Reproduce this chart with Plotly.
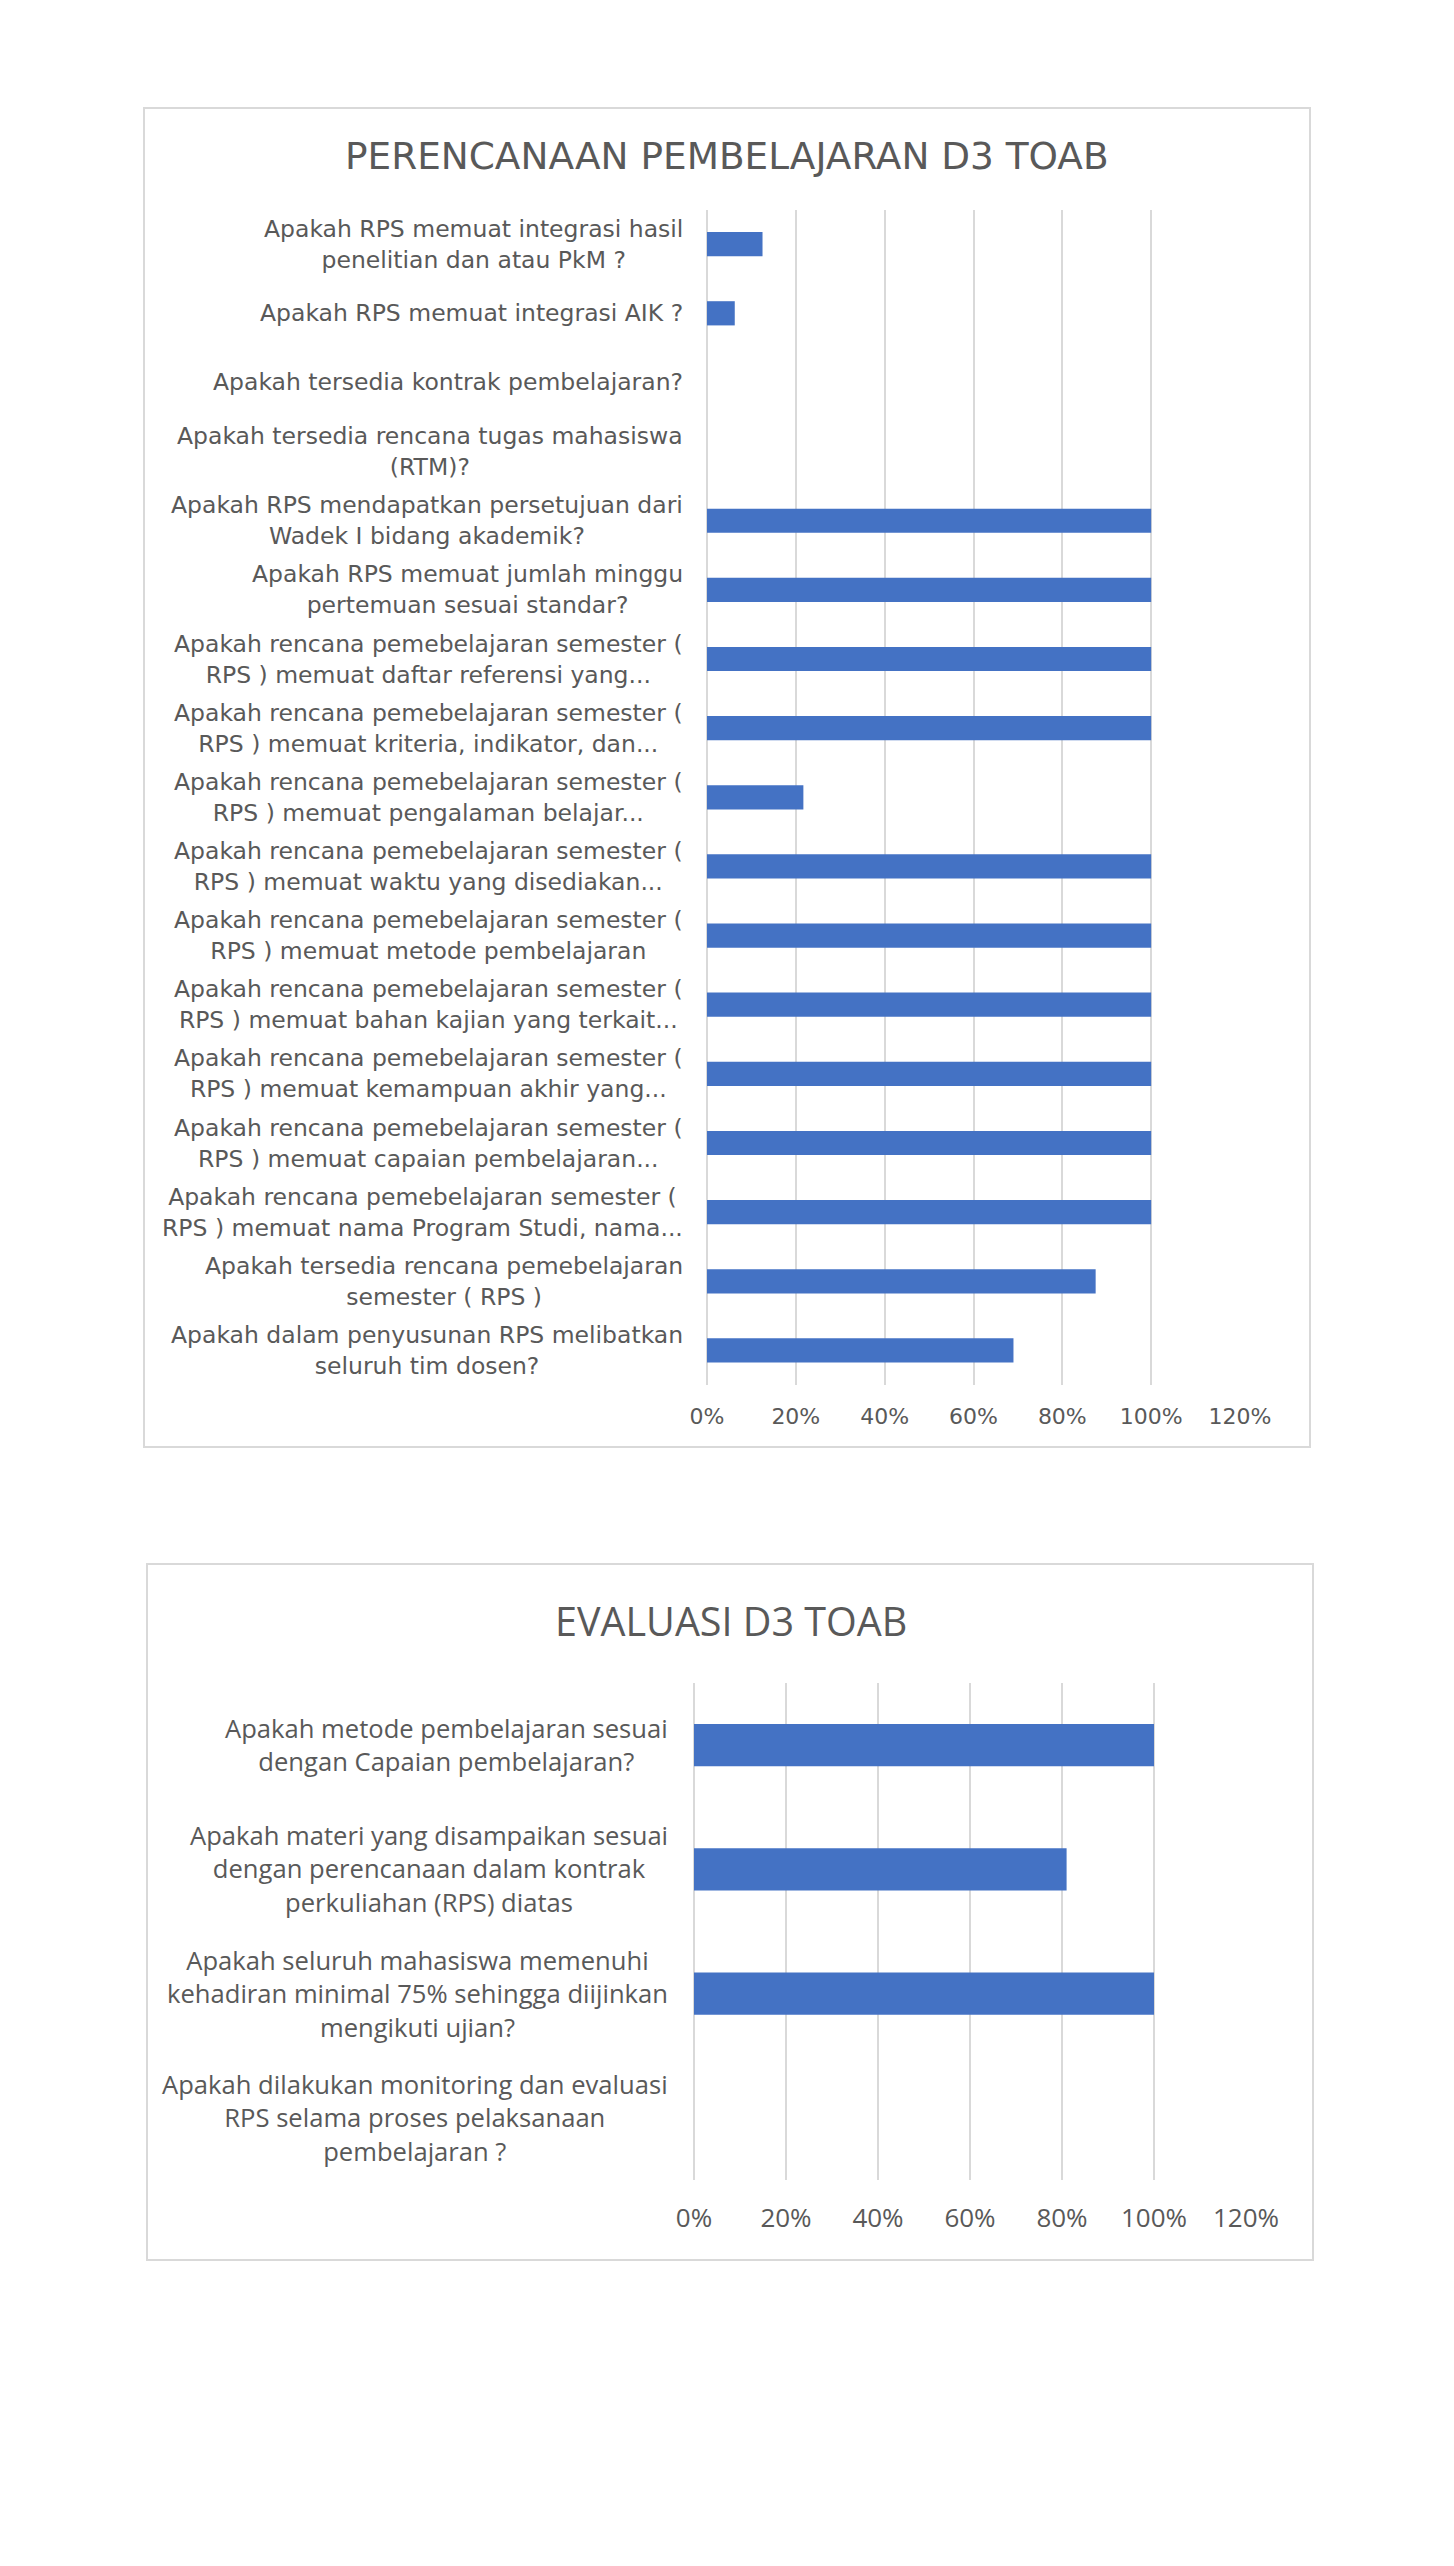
import plotly.graph_objects as go

W, H = 1454, 2566

# PERENCANAAN PEMBELAJARAN D3 TOAB (urut dari atas ke bawah)
plan_labels = [
    "Apakah RPS memuat integrasi hasil<br>penelitian dan atau PkM ?",
    "Apakah RPS memuat integrasi AIK ?",
    "Apakah tersedia kontrak pembelajaran?",
    "Apakah tersedia rencana tugas mahasiswa<br>(RTM)?",
    "Apakah RPS mendapatkan persetujuan dari<br>Wadek I bidang akademik?",
    "Apakah RPS memuat jumlah minggu<br>pertemuan sesuai standar?",
    "Apakah rencana pemebelajaran semester (<br>RPS ) memuat daftar referensi yang...",
    "Apakah rencana pemebelajaran semester (<br>RPS ) memuat kriteria, indikator, dan...",
    "Apakah rencana pemebelajaran semester (<br>RPS ) memuat pengalaman belajar...",
    "Apakah rencana pemebelajaran semester (<br>RPS ) memuat waktu yang disediakan...",
    "Apakah rencana pemebelajaran semester (<br>RPS ) memuat metode pembelajaran",
    "Apakah rencana pemebelajaran semester (<br>RPS ) memuat bahan kajian yang terkait...",
    "Apakah rencana pemebelajaran semester (<br>RPS ) memuat kemampuan akhir yang...",
    "Apakah rencana pemebelajaran semester (<br>RPS ) memuat capaian pembelajaran...",
    "Apakah rencana pemebelajaran semester (<br>RPS ) memuat nama Program Studi, nama...",
    "Apakah tersedia rencana pemebelajaran<br>semester ( RPS )",
    "Apakah dalam penyusunan RPS melibatkan<br>seluruh tim dosen?",
]
plan_values = [0.125, 0.0625, 0, 0, 1, 1, 1, 1, 0.217, 1, 1, 1, 1, 1, 1, 0.875, 0.69]

# EVALUASI D3 TOAB
eval_labels = [
    "Apakah metode pembelajaran sesuai<br>dengan Capaian pembelajaran?",
    "Apakah materi yang disampaikan sesuai<br>dengan perencanaan dalam kontrak<br>perkuliahan (RPS) diatas",
    "Apakah seluruh mahasiswa memenuhi<br>kehadiran minimal 75% sehingga diijinkan<br>mengikuti ujian?",
    "Apakah dilakukan monitoring dan evaluasi<br>RPS selama proses pelaksanaan<br>pembelajaran ?",
]
eval_values = [1, 0.81, 1, 0]

tick_vals = [0, 0.2, 0.4, 0.6, 0.8, 1.0, 1.2]
tick_text = ["0%", "20%", "40%", "60%", "80%", "100%", "120%"]

BLUE = "#4472C4"
TXT = "#595959"
GRID = "#d9d9d9"
F1 = "DejaVu Sans"
F2 = "Open Sans"


def px(x):
    return x / W


def py(y):
    return 1 - y / H


fig = go.Figure()

fig.add_trace(go.Bar(x=plan_values, y=plan_labels, orientation="h",
                     marker=dict(color=BLUE, line_width=0), width=0.35,
                     xaxis="x", yaxis="y", showlegend=False))
fig.add_trace(go.Bar(x=eval_values, y=eval_labels, orientation="h",
                     marker=dict(color=BLUE, line_width=0), width=0.34,
                     xaxis="x2", yaxis="y2", showlegend=False))

xcommon = dict(range=[0, 1.2], tickvals=tick_vals, ticktext=tick_text,
               showgrid=True, gridcolor=GRID, gridwidth=1.5,
               zeroline=True, zerolinecolor=GRID, zerolinewidth=1.5,
               showline=False, fixedrange=True)

fig.update_layout(
    width=W, height=H, autosize=False,
    margin=dict(l=0, r=0, t=0, b=0, pad=0, autoexpand=False),
    paper_bgcolor="white", plot_bgcolor="white",
    showlegend=False,
    xaxis=dict(domain=[px(707), px(1240)], anchor="y",
               tickfont=dict(family=F1, size=22, color=TXT),
               ticklabelstandoff=16, **xcommon),
    yaxis=dict(domain=[py(1385), py(209.6)], anchor="x",
               autorange="reversed", showticklabels=False,
               showgrid=False, fixedrange=True),
    xaxis2=dict(domain=[px(694), px(1246)], anchor="y2",
                tickfont=dict(family=F2, size=26, color=TXT),
                ticklabelstandoff=20, **xcommon),
    yaxis2=dict(domain=[py(2180), py(1683)], anchor="x2",
                autorange="reversed", showticklabels=False,
                showgrid=False, fixedrange=True),
)

# bingkai chart
for x0, y0, x1, y1 in [(144, 108, 1310, 1447), (147, 1564, 1313, 2260)]:
    fig.add_shape(type="rect", xref="paper", yref="paper",
                  x0=px(x0), x1=px(x1), y0=py(y1), y1=py(y0),
                  line=dict(color=GRID, width=2), fillcolor="rgba(0,0,0,0)")

# judul
fig.add_annotation(text="PERENCANAAN PEMBELAJARAN D3 TOAB", xref="paper", yref="paper",
                   x=px(727), y=py(156), xanchor="center", yanchor="middle",
                   showarrow=False, font=dict(family=F1, size=37.4, color=TXT))
fig.add_annotation(text="EVALUASI D3 TOAB", xref="paper", yref="paper",
                   x=px(731), y=py(1621), xanchor="center", yanchor="middle",
                   showarrow=False, font=dict(family=F2, size=39.5, color=TXT))

# label kategori (rata tengah seperti Excel)
for lab in plan_labels:
    fig.add_annotation(text=lab, xref="paper", yref="y", x=px(707), y=lab,
                       xanchor="right", xshift=-22, align="center", showarrow=False,
                       font=dict(family=F1, size=23.5, color=TXT))
for lab in eval_labels:
    fig.add_annotation(text=lab, xref="paper", yref="y2", x=px(694), y=lab,
                       xanchor="right", xshift=-24, align="center", showarrow=False,
                       font=dict(family=F2, size=25.6, color=TXT))

fig.write_html("out.html", config={"displayModeBar": False, "responsive": False},
               post_script="document.body.style.margin='0';document.body.style.overflow='hidden';")
